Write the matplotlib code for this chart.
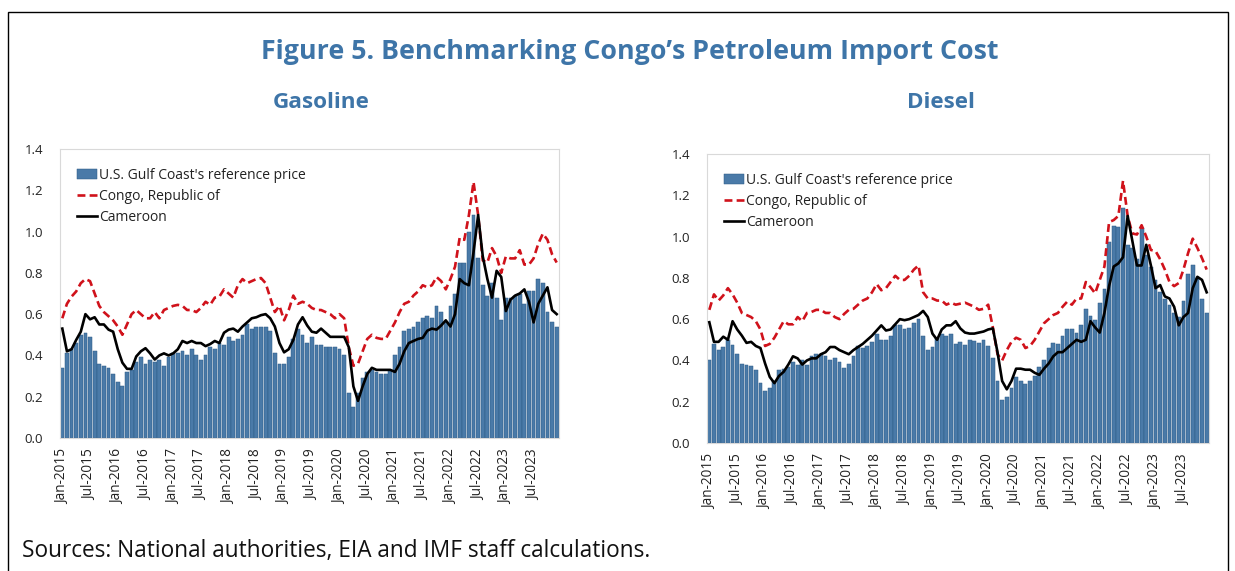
import matplotlib
matplotlib.use("Agg")
import matplotlib.pyplot as plt
from matplotlib.patches import Rectangle
import numpy as np
import pandas as pd

plt.rcParams['font.family'] = ['Open Sans', 'DejaVu Sans']

# monthly categories, Jan-2015 .. Dec-2023
months = pd.date_range("2015-01-01", periods=108, freq="MS")
tick_pos = list(range(0, 108, 6))
tick_labels = [months[i].strftime("%b-%Y") for i in tick_pos]

# Gasoline (US$ per litre)
gas_gulf = [
    0.34, 0.41, 0.43, 0.46, 0.50, 0.51, 0.49, 0.42, 0.36, 0.35, 0.34, 0.31,
    0.27, 0.25, 0.32, 0.33, 0.37, 0.39, 0.36, 0.38, 0.37, 0.38, 0.35, 0.39,
    0.41, 0.41, 0.42, 0.40, 0.43, 0.40, 0.38, 0.40, 0.44, 0.43, 0.46, 0.45,
    0.49, 0.47, 0.48, 0.50, 0.55, 0.53, 0.54, 0.54, 0.54, 0.52, 0.41, 0.36,
    0.36, 0.39, 0.48, 0.53, 0.50, 0.46, 0.49, 0.45, 0.45, 0.44, 0.44, 0.44,
    0.43, 0.40, 0.22, 0.15, 0.22, 0.29, 0.32, 0.33, 0.32, 0.31, 0.31, 0.33,
    0.40, 0.44, 0.52, 0.53, 0.54, 0.56, 0.58, 0.59, 0.58, 0.64, 0.61, 0.56,
    0.64, 0.70, 0.85, 0.85, 1.00, 1.08, 0.87, 0.74, 0.69, 0.75, 0.68, 0.57,
    0.68, 0.68, 0.69, 0.70, 0.65, 0.71, 0.71, 0.77, 0.75, 0.61, 0.56, 0.54,
]
gas_congo = [
    0.58, 0.65, 0.685, 0.71, 0.75, 0.77, 0.76, 0.70, 0.64, 0.61, 0.59, 0.57,
    0.54, 0.50, 0.55, 0.60, 0.62, 0.60, 0.58, 0.58, 0.61, 0.58, 0.62, 0.63,
    0.64, 0.645, 0.64, 0.62, 0.62, 0.61, 0.63, 0.66, 0.645, 0.68, 0.685, 0.72,
    0.70, 0.68, 0.74, 0.77, 0.75, 0.76, 0.77, 0.775, 0.75, 0.68, 0.61, 0.64,
    0.57, 0.62, 0.69, 0.65, 0.66, 0.65, 0.63, 0.62, 0.62, 0.61, 0.60, 0.58,
    0.60, 0.58, 0.44, 0.35, 0.36, 0.42, 0.48, 0.50, 0.485, 0.48, 0.48, 0.52,
    0.56, 0.61, 0.65, 0.66, 0.69, 0.71, 0.74, 0.73, 0.74, 0.78, 0.76, 0.72,
    0.77, 0.83, 0.97, 0.96, 1.08, 1.24, 1.08, 0.86, 0.85, 0.92, 0.88, 0.80,
    0.88, 0.87, 0.87, 0.91, 0.84, 0.84, 0.87, 0.94, 0.99, 0.96, 0.89, 0.85,
]
gas_cmr = [
    0.53, 0.42, 0.43, 0.475, 0.515, 0.60, 0.575, 0.585, 0.55, 0.55, 0.525, 0.515,
    0.43, 0.365, 0.335, 0.335, 0.395, 0.42, 0.435, 0.41, 0.38, 0.40, 0.41, 0.40,
    0.41, 0.43, 0.47, 0.46, 0.47, 0.46, 0.46, 0.445, 0.455, 0.47, 0.46, 0.51,
    0.525, 0.53, 0.515, 0.54, 0.56, 0.58, 0.585, 0.595, 0.60, 0.58, 0.54, 0.46,
    0.415, 0.43, 0.475, 0.55, 0.585, 0.545, 0.515, 0.51, 0.53, 0.51, 0.49, 0.49,
    0.49, 0.49, 0.44, 0.25, 0.18, 0.25, 0.31, 0.34, 0.33, 0.33, 0.33, 0.33,
    0.32, 0.36, 0.42, 0.46, 0.47, 0.48, 0.485, 0.52, 0.53, 0.525, 0.545, 0.57,
    0.54, 0.60, 0.77, 0.75, 0.74, 0.90, 1.08, 0.88, 0.77, 0.68, 0.81, 0.78,
    0.615, 0.67, 0.69, 0.70, 0.72, 0.66, 0.56, 0.65, 0.69, 0.73, 0.62, 0.60,
]

# Diesel (US$ per litre)
dsl_gulf = [
    0.40, 0.48, 0.45, 0.465, 0.50, 0.475, 0.43, 0.385, 0.38, 0.375, 0.355, 0.29,
    0.25, 0.265, 0.30, 0.355, 0.36, 0.37, 0.39, 0.38, 0.40, 0.38, 0.42, 0.43,
    0.43, 0.42, 0.40, 0.41, 0.39, 0.365, 0.385, 0.42, 0.47, 0.46, 0.47, 0.49,
    0.53, 0.50, 0.50, 0.52, 0.57, 0.57, 0.55, 0.555, 0.58, 0.60, 0.52, 0.45,
    0.465, 0.51, 0.53, 0.52, 0.53, 0.48, 0.49, 0.475, 0.50, 0.495, 0.485, 0.50,
    0.47, 0.41, 0.30, 0.21, 0.225, 0.265, 0.32, 0.30, 0.285, 0.30, 0.325, 0.37,
    0.40, 0.46, 0.485, 0.48, 0.52, 0.55, 0.55, 0.535, 0.57, 0.65, 0.615, 0.595,
    0.68, 0.745, 0.975, 1.05, 1.045, 1.14, 0.96, 0.945, 0.89, 1.04, 0.91, 0.855,
    0.79, 0.73, 0.70, 0.67, 0.63, 0.61, 0.69, 0.82, 0.86, 0.80, 0.70, 0.63,
]
dsl_congo = [
    0.645, 0.72, 0.69, 0.715, 0.75, 0.72, 0.68, 0.63, 0.62, 0.61, 0.59, 0.55,
    0.47, 0.48, 0.51, 0.55, 0.59, 0.575, 0.575, 0.61, 0.59, 0.63, 0.635, 0.645,
    0.645, 0.63, 0.63, 0.61, 0.60, 0.625, 0.645, 0.65, 0.67, 0.69, 0.70, 0.73,
    0.77, 0.74, 0.75, 0.78, 0.81, 0.79, 0.79, 0.81, 0.84, 0.86, 0.73, 0.70,
    0.70, 0.69, 0.69, 0.67, 0.68, 0.67, 0.675, 0.68, 0.67, 0.66, 0.645, 0.65,
    0.67, 0.56, 0.43, 0.40, 0.45, 0.49, 0.51, 0.50, 0.46, 0.47, 0.50, 0.54,
    0.58, 0.60, 0.62, 0.63, 0.66, 0.685, 0.67, 0.70, 0.70, 0.78, 0.755, 0.725,
    0.79, 0.855, 1.07, 1.08, 1.10, 1.27, 1.10, 1.015, 1.01, 1.055, 1.00, 0.935,
    0.93, 0.89, 0.84, 0.78, 0.76, 0.775, 0.84, 0.92, 0.99, 0.945, 0.895, 0.84,
]
dsl_cmr = [
    0.585, 0.49, 0.49, 0.515, 0.50, 0.59, 0.55, 0.52, 0.485, 0.49, 0.47, 0.46,
    0.385, 0.32, 0.29, 0.325, 0.345, 0.38, 0.42, 0.41, 0.38, 0.40, 0.41, 0.41,
    0.43, 0.44, 0.465, 0.465, 0.45, 0.44, 0.43, 0.45, 0.465, 0.48, 0.50, 0.52,
    0.545, 0.57, 0.545, 0.55, 0.575, 0.60, 0.595, 0.60, 0.61, 0.62, 0.64, 0.61,
    0.53, 0.50, 0.55, 0.57, 0.57, 0.59, 0.555, 0.535, 0.53, 0.53, 0.535, 0.54,
    0.55, 0.555, 0.44, 0.30, 0.26, 0.30, 0.36, 0.36, 0.355, 0.355, 0.34, 0.33,
    0.36, 0.385, 0.42, 0.44, 0.44, 0.46, 0.48, 0.50, 0.49, 0.50, 0.59, 0.56,
    0.535, 0.63, 0.76, 0.855, 0.87, 0.90, 1.10, 0.98, 0.86, 0.86, 0.96, 0.86,
    0.75, 0.765, 0.71, 0.70, 0.66, 0.57, 0.61, 0.63, 0.75, 0.805, 0.79, 0.73,
]

series_labels = ["U.S. Gulf Coast's reference price", "Congo, Republic of", "Cameroon"]

BLUE_TXT = "#3e75a8"
BAR = "#4a7aa8"
RED = "#d0121b"


def draw_panel(ax, gulf, congo, cmr):
    x = np.arange(len(months))
    bars = ax.bar(x, gulf, width=0.82, color=BAR, edgecolor="#2d5a85", linewidth=0.35, zorder=1)
    l_congo, = ax.plot(x, congo, color=RED, linestyle=(0, (3, 1.6)), linewidth=1.9, zorder=3)
    l_cmr, = ax.plot(x, cmr, color="black", linewidth=1.9, zorder=4)
    ax.set_xlim(-0.5, len(months) - 0.5)
    ax.set_ylim(0, 1.4)
    yt = np.arange(0, 1.41, 0.2)
    ax.set_yticks(yt)
    ax.set_yticklabels([f"{v:.1f}" for v in yt])
    ax.set_xticks(tick_pos)
    ax.set_xticklabels(tick_labels, rotation=90)
    ax.tick_params(axis="both", length=0, colors="#222222")
    ax.tick_params(axis="y", pad=12, labelsize=9.5)
    ax.tick_params(axis="x", pad=8, labelsize=9.8)
    for s in ax.spines.values():
        s.set_color("#d9d9d9")
        s.set_linewidth(0.8)
    leg = ax.legend([bars, l_congo, l_cmr], series_labels, loc="upper left",
                    bbox_to_anchor=(0.022, 0.955), frameon=False,
                    fontsize=10, handlelength=1.5, handletextpad=0.1,
                    labelspacing=0.45, borderaxespad=0)
    for t in leg.get_texts():
        t.set_color("#222222")


fig = plt.figure(figsize=(12.35, 5.71), dpi=100)

ax1 = fig.add_axes([60 / 1235, 1 - 438 / 571, 499 / 1235, 289 / 571])
draw_panel(ax1, gas_gulf, gas_congo, gas_cmr)

ax2 = fig.add_axes([707 / 1235, 1 - 443 / 571, 502 / 1235, 289 / 571])
draw_panel(ax2, dsl_gulf, dsl_congo, dsl_cmr)

fig.text(630 / 1235, 1 - 52 / 571, "Figure 5. Benchmarking Congo\u2019s Petroleum Import Cost",
         ha="center", va="center", fontsize=19.3, fontweight="bold", color=BLUE_TXT)
fig.text(321 / 1235, 1 - 103 / 571, "Gasoline", ha="center", va="center",
         fontsize=16.2, fontweight="bold", color=BLUE_TXT)
fig.text(941 / 1235, 1 - 103 / 571, "Diesel", ha="center", va="center",
         fontsize=16.2, fontweight="bold", color=BLUE_TXT)
fig.text(22 / 1235, 1 - 551 / 571, "Sources: National authorities, EIA and IMF staff calculations.",
         ha="left", va="center", fontsize=16.3, color="#111111")

# outer box
fig.add_artist(Rectangle((8 / 1235, -0.1), 1220 / 1235, 1 - 12 / 571 + 0.1,
                         transform=fig.transFigure, fill=False,
                         edgecolor="black", linewidth=1.0))

fig.savefig("out.png", dpi=100)
